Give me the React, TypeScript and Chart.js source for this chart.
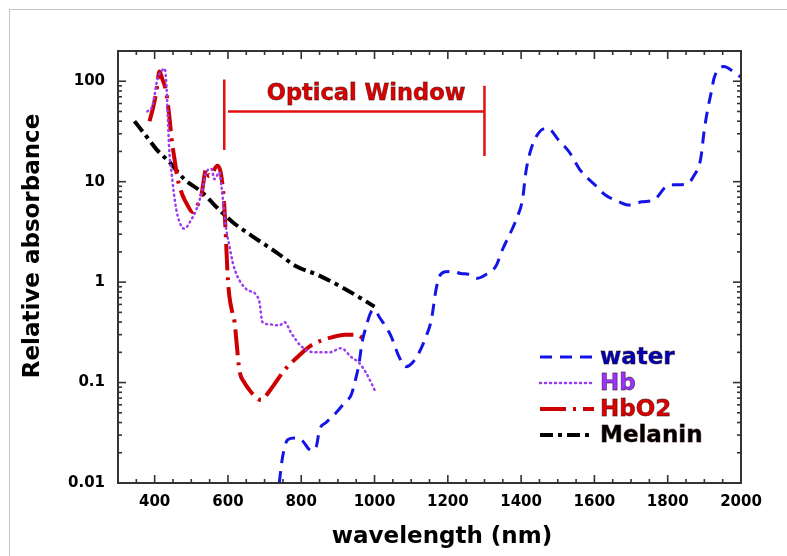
import React, { useEffect, useRef } from "react";
import { Chart, registerables } from "chart.js";

Chart.register(...registerables);

// ---- data ----
const waterNm = [740, 749, 763, 782, 800, 828, 841, 850, 868, 895, 918, 936, 950, 958, 966, 977, 990, 1000, 1013, 1045, 1067, 1086, 1103, 1122, 1141, 1155, 1168, 1177, 1195, 1212, 1235, 1258, 1280, 1304, 1331, 1349, 1376, 1390, 1404, 1413, 1427, 1449, 1472, 1504, 1531, 1563, 1604, 1627, 1667, 1695, 1730, 1763, 1795, 1817, 1853, 1871, 1890, 1899, 1908, 1921, 1926, 1953, 1986, 2000];
const waterAbs = [0.01, 0.018, 0.027, 0.028, 0.027, 0.021, 0.023, 0.034, 0.04, 0.05, 0.063, 0.075, 0.114, 0.157, 0.25, 0.36, 0.5, 0.53, 0.45, 0.29, 0.18, 0.144, 0.157, 0.2, 0.29, 0.42, 0.85, 1.14, 1.27, 1.28, 1.22, 1.19, 1.09, 1.19, 1.44, 2.1, 3.4, 4.5, 6.7, 12.5, 21, 31, 34, 25.5, 19.8, 12.8, 9.1, 7.5, 6.3, 5.85, 6.3, 6.6, 8.9, 9.3, 9.5, 11.4, 16.9, 31, 50, 85, 106, 140, 119, 110];

const hbNm = [380, 394, 408, 420, 427, 431, 434, 437, 440, 446, 452, 459, 468, 481, 500, 514, 531, 541, 555, 563, 577, 582, 587, 595, 604, 613, 626, 650, 677, 686, 694, 713, 740, 754, 773, 800, 836, 877, 909, 936, 958, 977, 1004];
const hbAbs = [50, 57, 106, 128, 134, 106, 67, 36, 20, 12.5, 7.9, 5.3, 3.95, 3.4, 4.2, 5.3, 8.5, 12.5, 13.4, 10.6, 12.4, 9.1, 6.3, 3.4, 2.3, 1.57, 1.14, 0.85, 0.75, 0.63, 0.4, 0.38, 0.37, 0.4, 0.31, 0.23, 0.2, 0.2, 0.22, 0.18, 0.157, 0.125, 0.079];

const hbo2Nm = [386, 396, 405, 413, 421, 431, 440, 446, 454, 463, 475, 490, 503, 514, 527, 541, 548, 558, 571, 580, 587, 591, 595, 599, 604, 612, 618, 625, 631, 645, 658, 675, 691, 705, 720, 755, 790, 830, 880, 920, 950, 972];
const hbo2Abs = [40, 55, 80, 125, 105, 80, 45, 27, 17, 10.6, 7.5, 5.8, 5.0, 5.6, 7.2, 13.4, 11.4, 12.4, 14.4, 12.5, 8, 5, 2.5, 1.2, 0.72, 0.5, 0.4, 0.22, 0.134, 0.1, 0.085, 0.072, 0.067, 0.075, 0.089, 0.134, 0.18, 0.238, 0.28, 0.3, 0.3, 0.27];

const melaninNm = [345, 372, 405, 440, 481, 528, 582, 613, 667, 732, 786, 845, 912, 960, 1000];
const melaninAbs = [40, 30, 21, 15.7, 10.6, 7.9, 5.0, 3.95, 2.86, 1.98, 1.44, 1.18, 0.885, 0.7, 0.57];

const seriesNames = ["water", "Hb", "HbO2", "Melanin"];

const xTickValues = [400, 600, 800, 1000, 1200, 1400, 1600, 1800, 2000];
const xTickLabels = ["400", "600", "800", "1000", "1200", "1400", "1600", "1800", "2000"];
const yTickValues = [0.01, 0.1, 1, 10, 100];
const yTickLabels = ["0.01", "0.1", "1", "10", "100"];

const xTitle = "wavelength (nm)";
const yTitle = "Relative absorbance";

// Optical window annotation (in data units)
const windowLabel = "Optical Window";
const windowLeftNm = 590;
const windowLeftSpan = [104, 20.7];
const windowBarFromNm = 600;
const windowRightNm = 1300;
const windowRightSpan = [90, 18];
const windowBarLevel = 50;
const windowLabelAt = [977, 74];

const FONT = "DejaVu Sans";

const series = [
  { name: seriesNames[0], nm: waterNm, abs: waterAbs, color: "#1414e6", text: "#0000b4", width: 3, dash: [12, 8] },
  { name: seriesNames[1], nm: hbNm, abs: hbAbs, color: "#9a3cf0", text: "#9933ff", width: 2.5, dash: [1, 4], cap: "round" },
  { name: seriesNames[2], nm: hbo2Nm, abs: hbo2Abs, color: "#cc0000", text: "#dd0000", width: 4, dash: [26, 7, 3, 7] },
  { name: seriesNames[3], nm: melaninNm, abs: melaninAbs, color: "#000000", text: "#000000", width: 4, dash: [13, 5, 4, 5] },
];

const decorPlugin = {
  id: "decor",
  afterDatasetsDraw(chart: any) {
    const { ctx, chartArea: a, scales } = chart;
    const xs = scales.x;
    const ys = scales.y;
    ctx.save();

    // frame
    ctx.strokeStyle = "#333";
    ctx.lineWidth = 2;
    ctx.setLineDash([]);
    ctx.strokeRect(a.left, a.top, a.right - a.left, a.bottom - a.top);

    const seg = (x1: number, y1: number, x2: number, y2: number) => {
      ctx.beginPath();
      ctx.moveTo(x1, y1);
      ctx.lineTo(x2, y2);
      ctx.stroke();
    };

    // x ticks (inward, top and bottom)
    ctx.lineWidth = 1.6;
    for (let v = 350; v < 2000; v += 50) {
      const px = xs.getPixelForValue(v);
      const len = v % 200 === 0 ? 8 : 4;
      seg(px, a.bottom, px, a.bottom - len);
      seg(px, a.top, px, a.top + len);
    }
    // y ticks (inward, left and right)
    for (let e = -2; e <= 2; e++) {
      for (let m = 1; m <= 9; m++) {
        const v = m * Math.pow(10, e);
        if (v > 200) continue;
        const py = ys.getPixelForValue(v);
        const len = m === 1 ? 8 : 4;
        seg(a.left, py, a.left + len, py);
        seg(a.right, py, a.right - len, py);
      }
    }

    // Optical window annotation
    ctx.strokeStyle = "#e01010";
    ctx.lineWidth = 2.5;
    const lx = xs.getPixelForValue(windowLeftNm);
    seg(lx, ys.getPixelForValue(windowLeftSpan[0]), lx, ys.getPixelForValue(windowLeftSpan[1]));
    const rx = xs.getPixelForValue(windowRightNm);
    seg(rx, ys.getPixelForValue(windowRightSpan[0]), rx, ys.getPixelForValue(windowRightSpan[1]));
    const by = ys.getPixelForValue(windowBarLevel);
    seg(xs.getPixelForValue(windowBarFromNm), by, rx, by);

    const outlined = (t: string, x: number, y: number, fill: string) => {
      ctx.fillStyle = fill;
      ctx.fillText(t, x, y);
      ctx.lineWidth = 0.8;
      ctx.strokeStyle = "rgba(40,0,0,0.55)";
      ctx.strokeText(t, x, y);
    };

    ctx.font = `bold 22.5px "${FONT}"`;
    ctx.textAlign = "center";
    ctx.textBaseline = "middle";
    outlined(windowLabel, xs.getPixelForValue(windowLabelAt[0]), ys.getPixelForValue(windowLabelAt[1]), "#e00000");

    // legend
    const rowY = [357, 383, 409, 435];
    ctx.font = `bold 23px "${FONT}"`;
    ctx.textAlign = "left";
    series.forEach((s, i) => {
      ctx.save();
      ctx.strokeStyle = s.color;
      ctx.lineWidth = s.width;
      ctx.lineCap = (s as any).cap || "butt";
      ctx.setLineDash(s.dash);
      seg(540, rowY[i], 594, rowY[i]);
      ctx.restore();
      outlined(s.name, 600, rowY[i] + 1, s.text);
    });

    // axis titles
    ctx.fillStyle = "#000";
    ctx.font = `bold 23px "${FONT}"`;
    ctx.textAlign = "center";
    ctx.textBaseline = "middle";
    ctx.fillText(xTitle, 442, 537);
    ctx.save();
    ctx.translate(33, 246);
    ctx.rotate(-Math.PI / 2);
    ctx.fillText(yTitle, 0, 0);
    ctx.restore();

    ctx.restore();
  },
};

export default function App() {
  const ref = useRef<HTMLCanvasElement>(null);

  useEffect(() => {
    document.body.style.margin = "0";
    const canvas = ref.current!;
    const chart = new Chart(canvas, {
      type: "line",
      data: {
        datasets: series.map((s) => ({
          label: s.name,
          data: s.nm.map((x, i) => ({ x, y: s.abs[i] })),
          borderColor: s.color,
          backgroundColor: s.color,
          borderWidth: s.width,
          borderDash: s.dash,
          borderCapStyle: ((s as any).cap || "butt") as any,
          pointRadius: 0,
          fill: false,
          cubicInterpolationMode: "monotone" as const,
        })),
      },
      options: {
        animation: false,
        responsive: false,
        maintainAspectRatio: false,
        layout: { padding: { top: 51, right: 46, left: 0, bottom: 0 } },
        plugins: {
          legend: { display: false },
          tooltip: { enabled: false },
        },
        scales: {
          x: {
            type: "linear",
            min: 300,
            max: 2000,
            grid: { display: false, drawTicks: false },
            border: { display: false },
            afterBuildTicks: (s: any) => {
              s.ticks = xTickValues.map((v) => ({ value: v }));
            },
            afterFit: (s: any) => {
              s.height = 73;
            },
            ticks: {
              autoSkip: false,
              maxRotation: 0,
              padding: 10,
              color: "#000",
              font: { family: FONT, size: 15, weight: "bold" },
              callback: (v: any) => xTickLabels[xTickValues.indexOf(Number(v))] ?? "",
            },
          },
          y: {
            type: "logarithmic",
            min: 0.01,
            max: 200,
            grid: { display: false, drawTicks: false },
            border: { display: false },
            afterBuildTicks: (s: any) => {
              s.ticks = yTickValues.map((v) => ({ value: v }));
            },
            afterFit: (s: any) => {
              s.width = 118;
            },
            ticks: {
              autoSkip: false,
              padding: 13,
              color: "#000",
              font: { family: FONT, size: 15, weight: "bold" },
              callback: (v: any) => {
                const i = yTickValues.findIndex((t) => Math.abs(t - Number(v)) < t * 1e-6);
                return i >= 0 ? yTickLabels[i] : "";
              },
            },
          },
        },
      },
      plugins: [decorPlugin],
    } as any);
    return () => chart.destroy();
  }, []);

  return (
    <div style={{ position: "relative", width: 787, height: 556, background: "#fff", overflow: "hidden" }}>
      <div
        style={{
          position: "absolute",
          left: 9,
          top: 9,
          right: 0,
          bottom: 0,
          borderTop: "1px solid #c4c4c4",
          borderLeft: "1px solid #c4c4c4",
        }}
      />
      <canvas
        ref={ref}
        width={787}
        height={556}
        style={{ position: "absolute", left: 0, top: 0, width: 787, height: 556 }}
      />
    </div>
  );
}
